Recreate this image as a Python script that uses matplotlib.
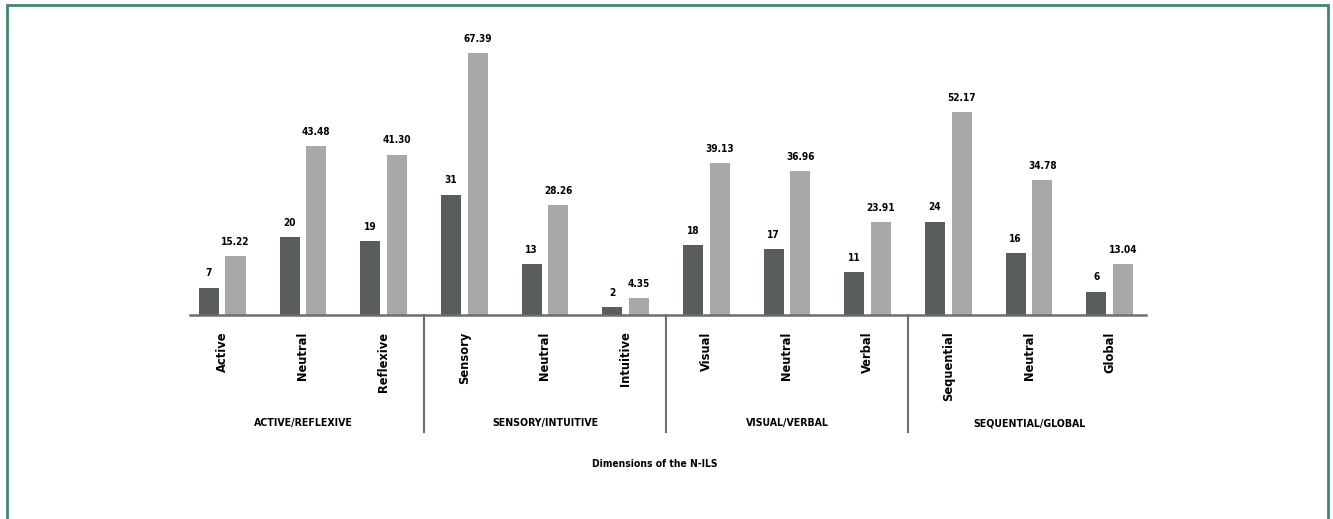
import matplotlib.pyplot as plt
import matplotlib.transforms as mtransforms
from matplotlib import font_manager as fm
from matplotlib.patches import Rectangle
import numpy as np

categories = ['Active', 'Neutral', 'Reflexive',
              'Sensory', 'Neutral', 'Intuitive',
              'Visual', 'Neutral', 'Verbal',
              'Sequential', 'Neutral', 'Global']
counts = [7, 20, 19, 31, 13, 2, 18, 17, 11, 24, 16, 6]
percents = [15.22, 43.48, 41.30, 67.39, 28.26, 4.35, 39.13, 36.96, 23.91, 52.17, 34.78, 13.04]
groups = ['ACTIVE/REFLEXIVE', 'SENSORY/INTUITIVE', 'VISUAL/VERBAL', 'SEQUENTIAL/GLOBAL']

# pick a condensed face if one is installed
names = {f.name for f in fm.fontManager.ttflist}
cond_dejavu = any(f.name == 'DejaVu Sans' and 'condensed' in str(f.stretch)
                  for f in fm.fontManager.ttflist)
if 'Liberation Sans Narrow' in names:
    FONT = dict(family=['Liberation Sans Narrow', 'DejaVu Sans'], fontweight='bold')
    scale = 1.15
elif cond_dejavu:
    FONT = dict(family=['DejaVu Sans'], fontweight='bold', fontstretch='condensed')
    scale = 1.0
else:
    FONT = dict(family=['DejaVu Sans'], fontweight='bold')
    scale = 0.9

dark = '#5a5d5d'
light = '#a7a9a9'
grey_line = '#6d6f6f'

W, H = 1333, 519
fig = plt.figure(figsize=(W / 100, H / 100), dpi=100)
ax = fig.add_axes([190 / W, (H - 315) / H, (1146 - 190) / W, 272 / H])

x = np.arange(len(categories))
bw = 0.25
off = 0.165
ax.bar(x - off, counts, bw, color=dark)
ax.bar(x + off, percents, bw, color=light)

for xi, c, p in zip(x, counts, percents):
    ax.text(xi - off, c + 2.4, str(c), ha='center', va='bottom',
            fontsize=7.2 * scale, **FONT)
    ax.text(xi + off, p + 2.4, f'{p:.2f}', ha='center', va='bottom',
            fontsize=7.2 * scale, **FONT)

ax.set_xlim(-0.4, 11.45)
ax.set_ylim(0, 70)
for s in ['top', 'right', 'left']:
    ax.spines[s].set_visible(False)
ax.spines['bottom'].set_color(grey_line)
ax.spines['bottom'].set_linewidth(1.8)
ax.set_yticks([])
ax.set_xticks(x)
ax.set_xticklabels(categories, rotation=90, fontsize=9.2 * scale, **FONT)
ax.tick_params(axis='x', length=0, pad=12)

# separators between dimension groups
trans = mtransforms.blended_transform_factory(ax.transData, fig.transFigure)
for sx in [2.5, 5.5, 8.5]:
    ax.plot([sx, sx], [(H - 315) / H, (H - 432) / H], color=grey_line, lw=1.5,
            transform=trans, clip_on=False)

for i, g in enumerate(groups):
    fig.text(3 * i + 1, (H - 423) / H, g, transform=trans, fontsize=7.6 * scale,
             ha='center', va='center', **FONT)

fig.text(655 / W, (H - 464) / H, 'Dimensions of the N-ILS', ha='center', va='center',
         fontsize=7.4 * scale, **FONT)

fig.patches.append(Rectangle((6.5 / W, -0.05), (1327.5 - 6.5) / W, (H - 5) / H + 0.05,
                             transform=fig.transFigure, fill=False,
                             edgecolor='#3f8575', lw=2, figure=fig))

fig.savefig('out.png', dpi=100)
